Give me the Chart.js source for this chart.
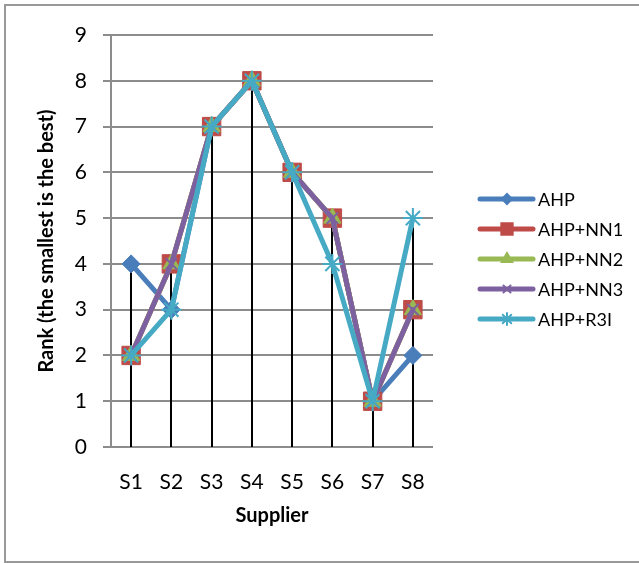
<!DOCTYPE html>
<html>
<head>
<meta charset="utf-8">
<script src="https://cdn.jsdelivr.net/npm/chart.js@4.4.0/dist/chart.umd.min.js"></script>
<style>
  body { margin: 0; background: #fff; }
  #wrap { width: 639px; height: 563px; }
</style>
</head>
<body>
<div id="wrap"><canvas id="rankChart" width="639" height="563"></canvas></div>
<script>
// data
const suppliers = ["S1", "S2", "S3", "S4", "S5", "S6", "S7", "S8"];
const ahp = [4, 3, 7, 8, 6, 5, 1, 2];
const ahpNN1 = [2, 4, 7, 8, 6, 5, 1, 3];
const ahpNN2 = [2, 4, 7, 8, 6, 5, 1, 3];
const ahpNN3 = [2, 4, 7, 8, 6, 5, 1, 3];
const ahpR3I = [2, 3, 7, 8, 6, 4, 1, 5];
const seriesNames = ["AHP", "AHP+NN1", "AHP+NN2", "AHP+NN3", "AHP+R3I"];
const seriesValues = [ahp, ahpNN1, ahpNN2, ahpNN3, ahpR3I];
const rankMin = 0;
const rankMax = 9;

const colors = ["#4A7EBB", "#BE4B48", "#98B954", "#7D60A0", "#46AAC5"];
const markers = ["rectRot", "rect", "triangle", "crossRot", "star"];
const markerSize = [9, 13, 10, 8, 10];
const FONT = "Lato, 'Open Sans', sans-serif";

// outer frame
const frame = {
  id: "frame",
  beforeDraw: (chart) => {
    const { ctx } = chart;
    ctx.save();
    ctx.fillStyle = "white";
    ctx.fillRect(0, 0, chart.width, chart.height);
    ctx.strokeStyle = "#999999";
    ctx.lineWidth = 2;
    ctx.strokeRect(5, 5, chart.width + 10, chart.height - 6);
    ctx.restore();
  },
};

// black drop lines from the highest point down to the axis
const dropLines = {
  id: "dropLines",
  beforeDatasetsDraw: (chart) => {
    const { ctx } = chart;
    const x = chart.scales.x;
    const y = chart.scales.y;
    ctx.save();
    ctx.strokeStyle = "#000";
    ctx.lineWidth = 2;
    suppliers.forEach((s, i) => {
      const top = Math.max(...seriesValues.map((v) => v[i]));
      const px = Math.round(x.getPixelForValue(i));
      ctx.beginPath();
      ctx.moveTo(px, y.getPixelForValue(0));
      ctx.lineTo(px, y.getPixelForValue(top));
      ctx.stroke();
    });
    ctx.restore();
  },
};

// excel style legend: line with marker in the middle
const lineLegend = {
  id: "lineLegend",
  afterDraw: (chart) => {
    const { ctx, chartArea } = chart;
    const lx = chartArea.right + 47;
    ctx.save();
    seriesNames.forEach((name, i) => {
      const ly = chartArea.top + 164 + i * 30;
      ctx.strokeStyle = colors[i];
      ctx.fillStyle = colors[i];
      ctx.lineWidth = 5;
      ctx.lineCap = "round";
      ctx.beginPath();
      ctx.moveTo(lx, ly);
      ctx.lineTo(lx + 53, ly);
      ctx.stroke();
      ctx.lineWidth = 2;
      Chart.helpers.drawPoint(ctx, { pointStyle: markers[i], rotation: 0, radius: Math.round(markerSize[i] * 0.6), borderWidth: 2 }, lx + 27, ly);
      ctx.fillStyle = "#000";
      ctx.font = "18px " + FONT;
      ctx.textBaseline = "middle";
      ctx.fillText(name, lx + 58, ly + 1);
    });
    ctx.restore();
  },
};

const rankData = {
  labels: suppliers,
  datasets: seriesNames.map((name, i) => ({
    label: name,
    data: seriesValues[i],
    order: seriesNames.length - i,
    borderColor: colors[i],
    backgroundColor: colors[i],
    borderWidth: 5,
    borderJoinStyle: "round",
    borderCapStyle: "round",
    pointStyle: markers[i],
    pointRadius: markerSize[i],
    pointHoverRadius: markerSize[i],
    pointBackgroundColor: colors[i],
    pointBorderColor: colors[i],
    pointBorderWidth: i >= 3 ? 2 : 1,
    tension: 0,
  })),
};

const rankChart = new Chart(document.getElementById("rankChart"), {
  type: "line",
  data: rankData,
  plugins: [frame, dropLines, lineLegend],
  options: {
    responsive: false,
    animation: false,
    layout: {
      padding: { left: 35, right: 206, top: 35, bottom: 35 },
    },
    plugins: {
      legend: { display: false },
      tooltip: { enabled: false },
    },
    scales: {
      x: {
        offset: true,
        afterFit: (scale) => {
          scale.height = 81;
        },
        grid: { display: false, drawTicks: false },
        border: { display: false },
        ticks: {
          color: "#000",
          padding: 23,
          font: { family: FONT, size: 21 },
        },
        title: {
          display: true,
          text: "Supplier",
          color: "#000",
          padding: { top: 10, bottom: 0 },
          font: { family: FONT, size: 20, weight: "bold" },
        },
      },
      y: {
        min: rankMin,
        max: rankMax,
        afterFit: (scale) => {
          scale.width = 76;
        },
        grid: {
          color: "#8c8c8c",
          lineWidth: 2,
          tickLength: 8,
          drawTicks: true,
        },
        border: { color: "#8c8c8c", width: 2 },
        ticks: {
          stepSize: 1,
          color: "#000",
          padding: 16,
          font: { family: FONT, size: 21 },
        },
        title: {
          display: true,
          text: "Rank (the smallest is the best)",
          color: "#000",
          padding: 0,
          font: { family: FONT, size: 20, weight: "bold" },
        },
      },
    },
  },
});
</script>
</body>
</html>
